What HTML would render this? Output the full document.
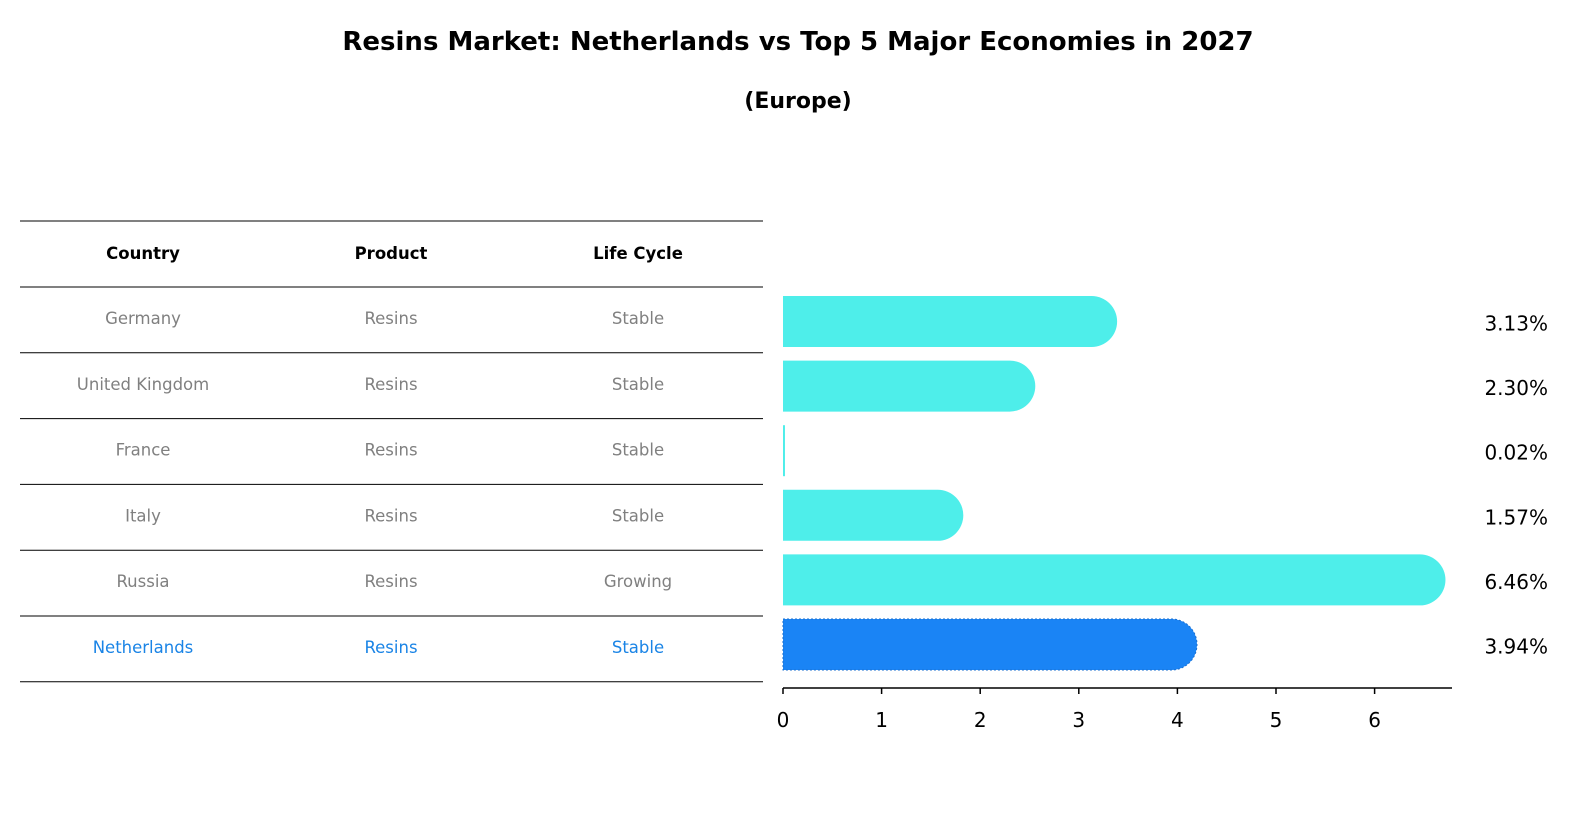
<!DOCTYPE html>
<html><head><meta charset="utf-8"><style>
html,body{margin:0;padding:0;background:#fff;overflow:hidden;width:1586px;height:823px;font-family:"Liberation Sans","DejaVu Sans",sans-serif;}
svg{display:block;}
svg text{font-family:"DejaVu Sans","Liberation Sans",sans-serif;}
</style></head><body>
<svg id="c" width="1586" height="823" xmlns="http://www.w3.org/2000/svg">
<rect width="1586" height="823" fill="#fff"/>
<text x="798" y="50" text-anchor="middle" font-size="26" font-weight="bold">Resins Market: Netherlands vs Top 5 Major Economies in 2027</text>
<text x="798" y="108" text-anchor="middle" font-size="22" font-weight="bold">(Europe)</text>
<g id="tbl"></g>
<g id="bars"></g>
</svg>
<script>
const countries=["Germany","United Kingdom","France","Italy","Russia","Netherlands"];
const products=["Resins","Resins","Resins","Resins","Resins","Resins"];
const cycles=["Stable","Stable","Stable","Stable","Growing","Stable"];
const values=[3.13,2.30,0.02,1.57,6.46,3.94];
const ticks=[0,1,2,3,4,5,6];
const NS="http://www.w3.org/2000/svg";
function mk(t,a,p){const e=document.createElementNS(NS,t);for(const k in a)e.setAttribute(k,a[k]);p.appendChild(e);return e;}
const tbl=document.getElementById('tbl'),bars=document.getElementById('bars');
const rowY=i=>287+i*65.8, colX=[143,391,638];
const x=v=>783+v*98.6;
const rowC=i=>321.5+i*64.6;
for(let i=-1;i<=countries.length;i++){
 const y=i<0?221:rowY(i);
 const l=mk('line',{x1:20,x2:763,y1:y,y2:y,stroke:'#000','stroke-width':1},tbl);
 
 
}
["Country","Product","Life Cycle"].forEach((h,j)=>{
 const t=mk('text',{x:colX[j],y:259,'text-anchor':'middle','font-size':16.5,'font-weight':'bold'},tbl);t.textContent=h;
 
 
});
countries.forEach((c,i)=>{
 const col=i===countries.length-1?'#1a84e6':'#808080';
 [c,products[i],cycles[i]].forEach((s,j)=>{
  const t=mk('text',{x:colX[j],y:rowY(i)+37,'text-anchor':'middle','font-size':16.5,fill:col},tbl);t.textContent=s;
  
  
 });
});
const h=51;
values.forEach((v,i)=>{
 const cy=rowC(i),col=i===values.length-1?'#1a84f5':'#4eeeea';
 const xe=x(v),r=h/2;
 let d=`M${x(0)},${cy-r} H${xe}`+(v>0.5?` A${r},${r} 0 0 1 ${xe},${cy+r}`:` V${cy+r}`)+` H${x(0)} Z`;
 const p=mk('path',{d:d,fill:col},bars);
 if(i===values.length-1){p.setAttribute('stroke','#1a6fd0');p.setAttribute('stroke-dasharray','2,2');p.setAttribute('stroke-width','1');}
 
 
 const t=mk('text',{x:1548,y:cy+9,'text-anchor':'end','font-size':20},bars);t.textContent=v.toFixed(2)+'%';
 
 
});
const ax=mk('line',{x1:783,x2:1452,y1:688,y2:688,stroke:'#000','stroke-width':1.5},bars);


ticks.forEach(v=>{
 const tk=mk('line',{x1:x(v),x2:x(v),y1:688,y2:694,stroke:'#000','stroke-width':1.5},bars);
 
 
 const t=mk('text',{x:x(v),y:727,'text-anchor':'middle','font-size':20},bars);t.textContent=v;
 
 
});
</script>
</body></html>
